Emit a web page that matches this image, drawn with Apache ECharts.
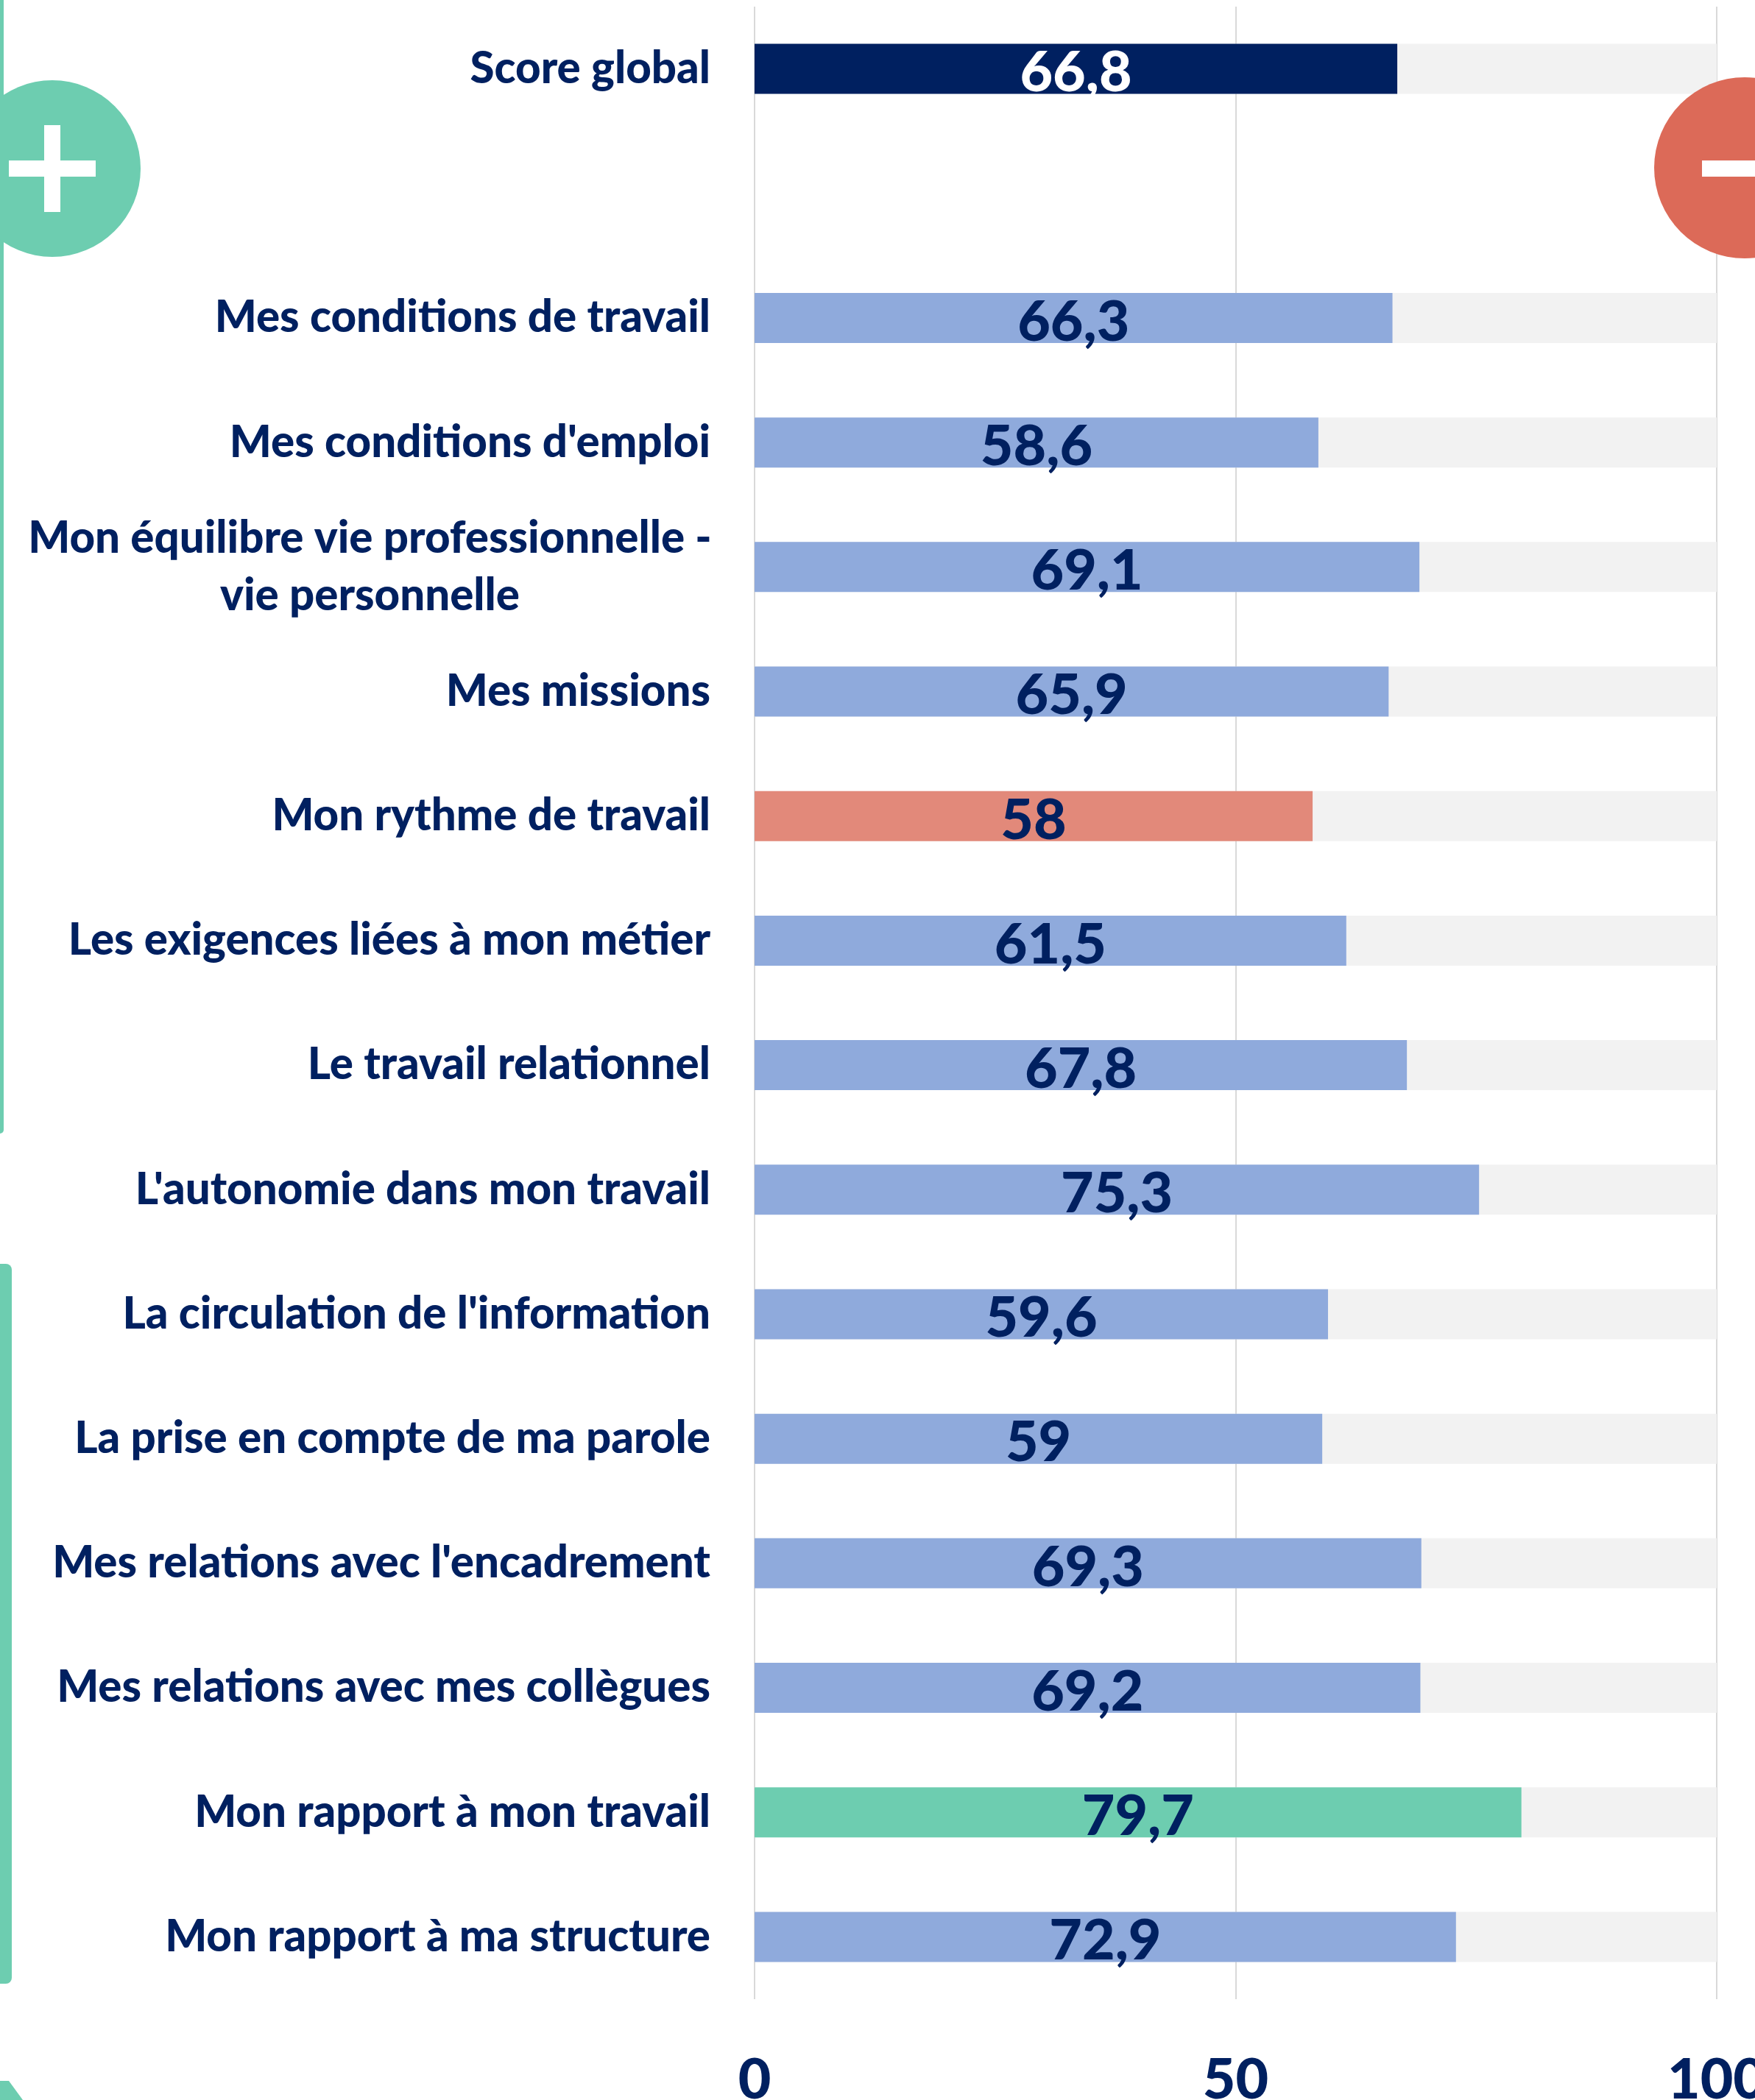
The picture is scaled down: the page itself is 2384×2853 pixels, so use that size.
<!DOCTYPE html>
<html>
<head>
<meta charset="utf-8">
<style>
  html, body { margin: 0; padding: 0; background: #fff; }
  #chart { width: 2384px; height: 2853px; }
</style>
<script src="https://cdn.jsdelivr.net/npm/echarts@6/dist/echarts.min.js"></script>
</head>
<body>
<div id="chart"></div>
<script>
// blank string = the empty row under the global score
const categories = [
  "Score global",
  "",
  "Mes conditions de travail",
  "Mes conditions d'emploi",
  "Mon équilibre vie professionnelle -\nvie personnelle",
  "Mes missions",
  "Mon rythme de travail",
  "Les exigences liées à mon métier",
  "Le travail relationnel",
  "L'autonomie dans mon travail",
  "La circulation de l'information",
  "La prise en compte de ma parole",
  "Mes relations avec l'encadrement",
  "Mes relations avec mes collègues",
  "Mon rapport à mon travail",
  "Mon rapport à ma structure"
];
const scores = [66.8, null, 66.3, 58.6, 69.1, 65.9, 58, 61.5, 67.8, 75.3, 59.6, 59, 69.3, 69.2, 79.7, 72.9];
const track = [100, null, 100, 100, 100, 100, 100, 100, 100, 100, 100, 100, 100, 100, 100, 100];
const axisTicks = [0, 50, 100];

const NAVY = '#002060', BLUE = '#8FAADC', RED = '#E2897A', GREEN = '#6DCDB0', CIRCLE_RED = '#DC6A58';
const FONT = 'Lato';
const LABEL_WEIGHT = 900;

function barColor(name) {
    if (name === 'Score global') return NAVY;
    if (name === 'Mon rythme de travail') return RED;
    if (name === 'Mon rapport à mon travail') return GREEN;
    return BLUE;
}

const chart = echarts.init(document.getElementById('chart'), null, { renderer: 'canvas' });

chart.setOption({
    animation: false,
    backgroundColor: '#fff',
    grid: { left: 1025, top: 9, width: 1307, height: 2707, outerBoundsMode: 'none' },
    xAxis: {
        type: 'value',
        min: axisTicks[0],
        max: axisTicks[2],
        interval: axisTicks[1],
        axisLine: { show: false },
        axisTick: { show: false },
        splitLine: { show: true, lineStyle: { color: '#D9D9D9', width: 2 } },
        axisLabel: {
            margin: 72,
            color: NAVY,
            fontFamily: FONT,
            fontWeight: LABEL_WEIGHT,
            fontSize: 77,
            hideOverlap: false
        }
    },
    yAxis: {
        type: 'category',
        inverse: true,
        data: categories,
        axisLine: { show: false },
        axisTick: { show: false },
        splitLine: { show: false },
        axisLabel: {
            interval: 0,
            margin: 60,
            color: NAVY,
            fontFamily: FONT,
            fontWeight: LABEL_WEIGHT,
            fontSize: 60,
            lineHeight: 78,
            formatter: function (value) {
                if (value.indexOf('\n') < 0) return value;
                return value.split('\n').map(function (line) { return '{two|' + line + '}'; }).join('\n');
            },
            rich: {
                two: {
                    width: 925,
                    align: 'center',
                    color: NAVY,
                    fontFamily: FONT,
                    fontWeight: LABEL_WEIGHT,
                    fontSize: 60,
                    lineHeight: 78
                }
            }
        }
    },
    series: [
        {
            name: 'track',
            type: 'bar',
            data: track,
            barWidth: 68,
            barGap: '-100%',
            silent: true,
            itemStyle: { color: '#F2F2F2' }
        },
        {
            name: 'score',
            type: 'bar',
            barWidth: 68,
            data: scores.map(function (v, i) {
                const item = { value: v, itemStyle: { color: barColor(categories[i]) } };
                if (categories[i] === 'Score global') item.label = { color: '#fff' };
                return item;
            }),
            label: {
                show: true,
                position: 'inside',
                offset: [0, 6],
                fontFamily: FONT,
                fontWeight: LABEL_WEIGHT,
                fontSize: 77,
                color: NAVY,
                formatter: function (p) {
                    return String(p.value).replace('.', ',');
                }
            }
        }
    ],
    graphic: [
        // side strips
        { type: 'rect', z: 20, shape: { x: -10, y: -10, width: 15, height: 1550, r: 5 }, style: { fill: GREEN } },
        { type: 'rect', z: 20, shape: { x: -10, y: 1717, width: 26, height: 978, r: 8 }, style: { fill: GREEN } },
        // plus badge
        { type: 'circle', z: 20, shape: { cx: 71, cy: 229, r: 120 }, style: { fill: GREEN } },
        { type: 'rect', z: 21, shape: { x: 12, y: 218, width: 118, height: 22 }, style: { fill: '#fff' } },
        { type: 'rect', z: 21, shape: { x: 60, y: 170, width: 22, height: 118 }, style: { fill: '#fff' } },
        // minus badge
        { type: 'circle', z: 20, shape: { cx: 2370, cy: 228, r: 123 }, style: { fill: CIRCLE_RED } },
        { type: 'rect', z: 21, shape: { x: 2312, y: 218, width: 118, height: 22 }, style: { fill: '#fff' } },
        // corner of the shape cut off at the bottom
        { type: 'polygon', z: 20, shape: { points: [[0, 2827], [12, 2827], [31, 2853], [0, 2853]] }, style: { fill: GREEN } }
    ]
});
</script>
</body>
</html>
